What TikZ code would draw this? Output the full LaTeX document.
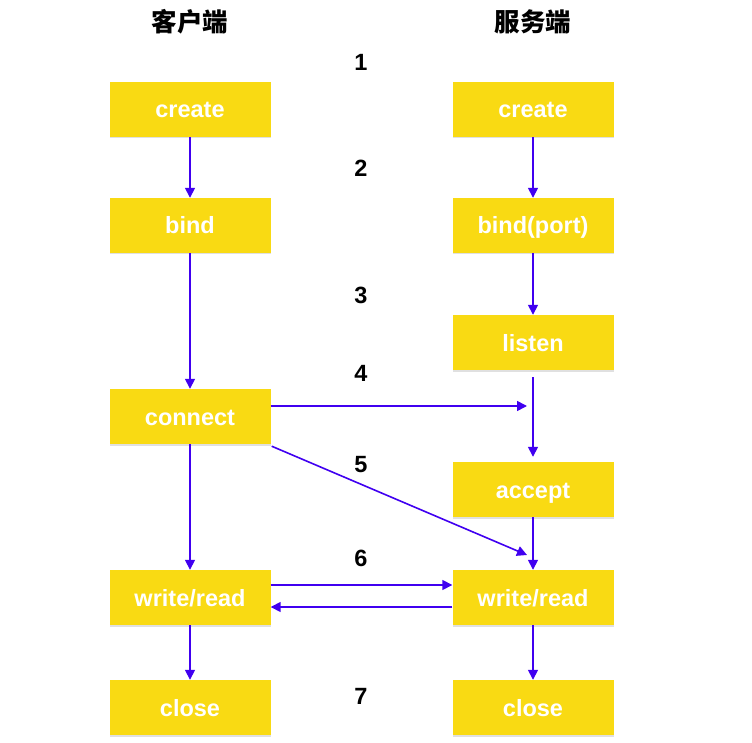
\documentclass[tikz,border=0pt]{standalone}
\usepackage{fontspec}
\setmainfont{Liberation Sans}
\newfontfamily\cjk{Noto Sans CJK SC}
\usetikzlibrary{arrows.meta,shadows,calc}
\definecolor{boxyellow}{HTML}{F9DA13}
\definecolor{arrowblue}{HTML}{4000F0}
\begin{document}
\begin{tikzpicture}[x=1pt,y=-1pt,
  box/.style={rectangle, fill=boxyellow, minimum width=161pt, minimum height=55pt,
    inner sep=0pt, text height=17pt, text depth=0pt, text=white,
    font=\fontsize{23.5}{25}\selectfont\bfseries,
    drop shadow={shadow xshift=0pt, shadow yshift=-1.5pt, fill=black, opacity=0.12}},
  num/.style={font=\fontsize{23.5}{25}\selectfont\bfseries, text=black},
  title/.style={font=\cjk\fontsize{25.5}{27}\selectfont\bfseries, text=black},
  conn/.style={draw=arrowblue, line width=1.6pt, -{Triangle[length=10pt,width=10pt]}}]
\useasboundingbox (0,0) rectangle (752,743);
% titles
\node[title] (tc) at (190,22) {客户端};
\node[title] (ts) at (533,22) {服务端};
% numbers
\node[num] (n1) at (361,62) {1};
\node[num] (n2) at (361,168) {2};
\node[num] (n3) at (361,295) {3};
\node[num] (n4) at (361,373) {4};
\node[num] (n5) at (361,465) {5};
\node[num] (n6) at (361,558) {6};
\node[num] (n7) at (361,696) {7};
% client boxes
\node[box] (ccreate) at (190,109.5) {create};
\node[box] (cbind) at (190,225.5) {bind};
\node[box] (cconn) at (190,416.5) {connect};
\node[box] (cwr) at (190,597.5) {write/read};
\node[box] (cclose) at (190,707.5) {close};
% server boxes
\node[box] (screate) at (533,109.5) {create};
\node[box] (sbind) at (533,225.5) {bind(port)};
\node[box] (slisten) at (533,342.5) {listen};
\node[box] (saccept) at (533,489.5) {accept};
\node[box] (swr) at (533,597.5) {write/read};
\node[box] (sclose) at (533,707.5) {close};
% free ends
\coordinate (h4) at (527,406);
\coordinate (d5) at (527,555);
\coordinate (lstart) at ($(slisten.south)+(0,7)$);
\coordinate (aend) at ($(saccept.north)+(0,-5)$);
% client arrows
\draw[conn] (ccreate) -- (cbind);
\draw[conn] (cbind) -- (cconn);
\draw[conn] (cconn) -- (cwr);
\draw[conn] (cwr) -- (cclose);
% server arrows
\draw[conn] (screate) -- (sbind);
\draw[conn] (sbind) -- (slisten);
\draw[conn] (lstart) -- (aend);
\draw[conn] (saccept) -- (swr);
\draw[conn] (swr) -- (sclose);
% cross arrows
\draw[conn] (cconn.east |- h4) -- (h4);
\draw[conn] ($(cconn.south east)+(1,2)$) -- (d5);
\draw[conn] ($(cwr.east)+(0,-12.5)$) -- ($(swr.west)+(0,-12.5)$);
\draw[conn] ($(swr.west)+(0,9.5)$) -- ($(cwr.east)+(0,9.5)$);
\end{tikzpicture}
\end{document}
